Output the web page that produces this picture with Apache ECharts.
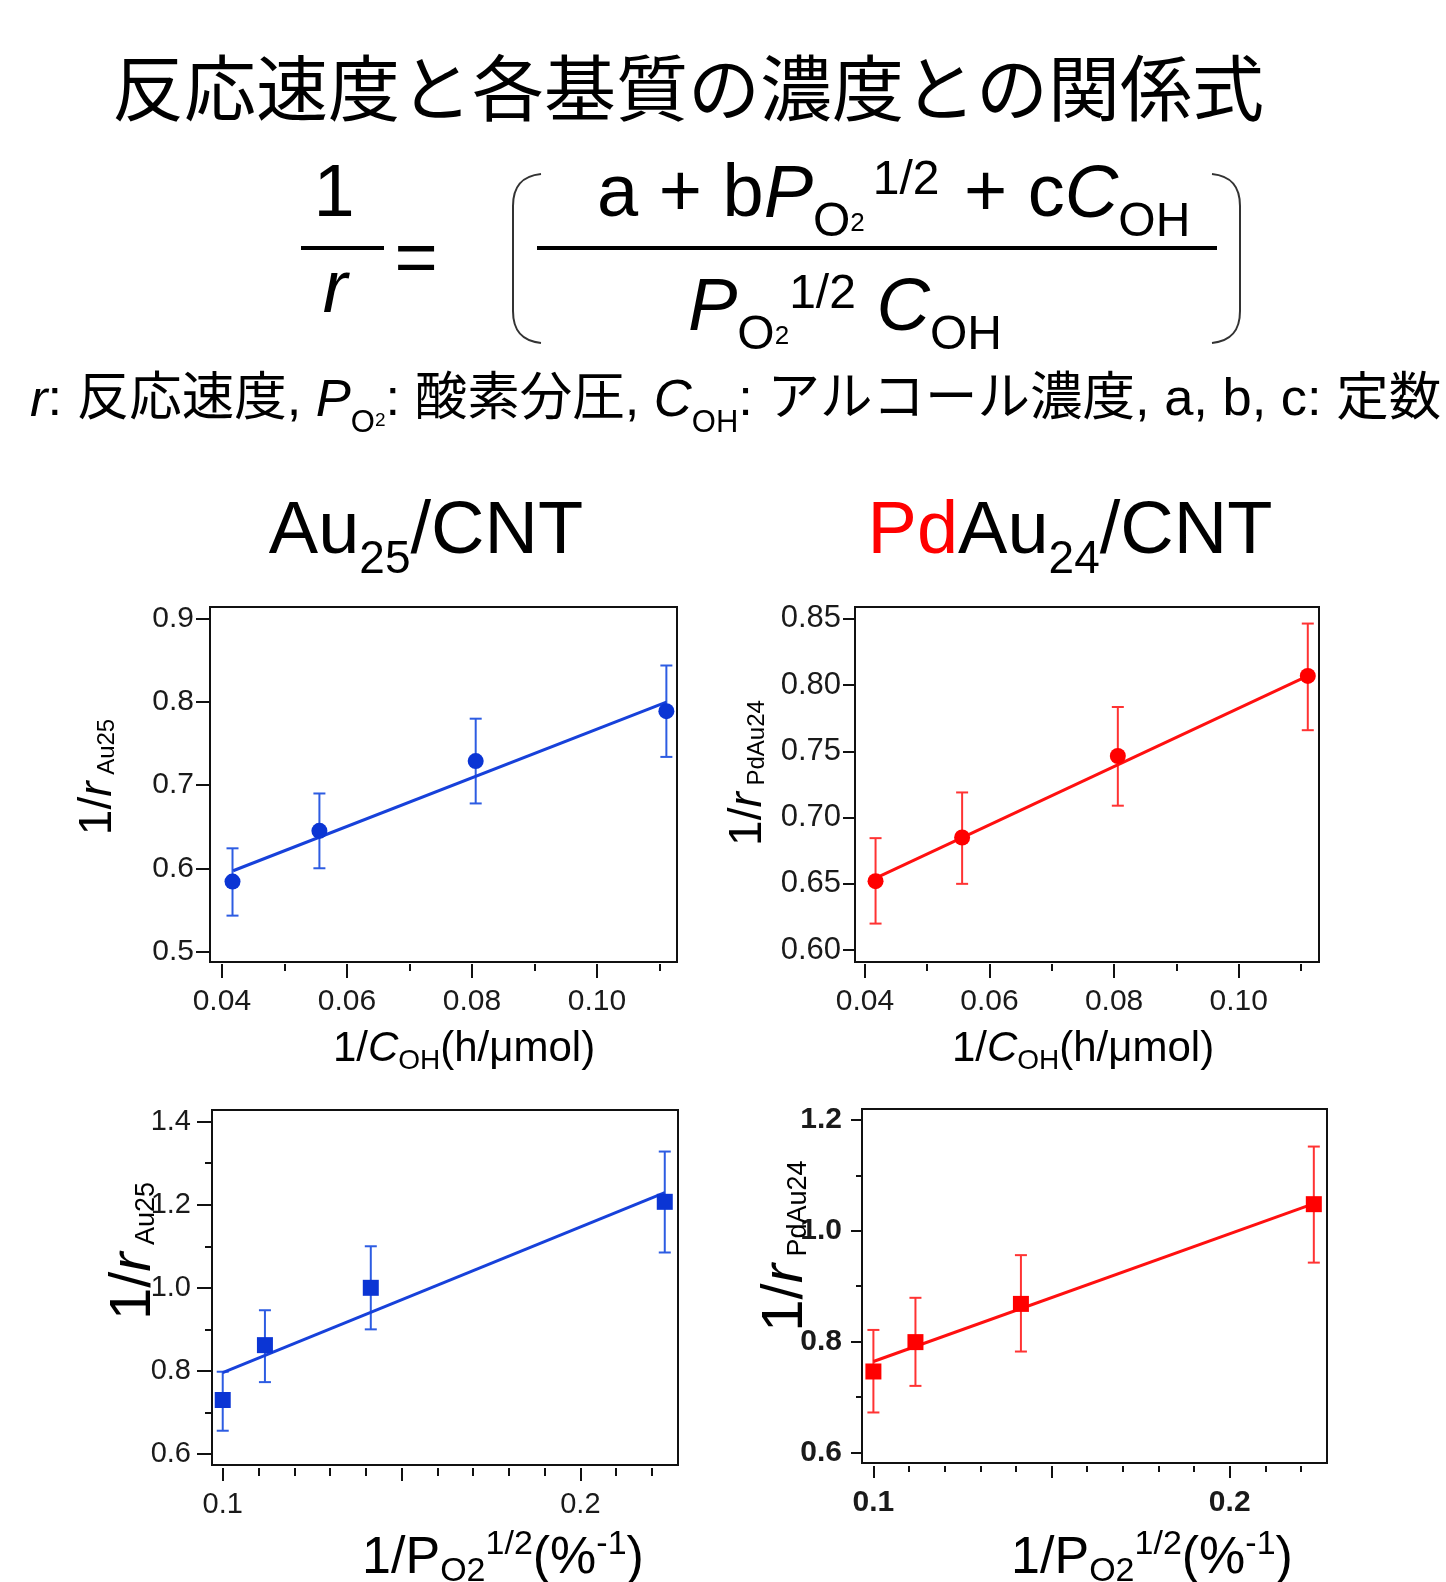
<!DOCTYPE html>
<html><head><meta charset="utf-8">
<script src="https://cdn.jsdelivr.net/npm/echarts@6/dist/echarts.min.js"></script>
<style>html,body{margin:0;padding:0;background:#fff}#c{width:1446px;height:1582px}</style>
</head><body><div id="c"></div>
<script>
// ---------- data ----------
const concX = [0.0417, 0.0556, 0.0806, 0.1111];           // 1/C_OH (h/μmol)
const au25ConcY = [0.584, 0.645, 0.729, 0.789];
const au25ConcErrLow = [0.543, 0.600, 0.678, 0.734];
const au25ConcErrHigh = [0.624, 0.690, 0.780, 0.844];
const au25ConcFit = [[0.0418, 0.597], [0.1111, 0.800]];

const pdConcY = [0.652, 0.685, 0.7465, 0.807];
const pdConcErrLow = [0.620, 0.650, 0.709, 0.766];
const pdConcErrHigh = [0.6845, 0.719, 0.7835, 0.8465];
const pdConcFit = [[0.0418, 0.6545], [0.1111, 0.807]];

const presX = [0.1000, 0.1118, 0.1414, 0.2236];           // 1/P_O2^1/2
const au25PresY = [0.730, 0.862, 1.000, 1.207];
const au25PresErrLow = [0.656, 0.773, 0.900, 1.085];
const au25PresErrHigh = [0.798, 0.946, 1.100, 1.328];
const au25PresFit = [[0.1000, 0.796], [0.2236, 1.229]];

const pdPresY = [0.746, 0.799, 0.868, 1.048];
const pdPresErrLow = [0.672, 0.720, 0.782, 0.9425];
const pdPresErrHigh = [0.821, 0.879, 0.956, 1.152];
const pdPresFit = [[0.1000, 0.764], [0.2236, 1.049]];

// ---------- ticks ----------
const concXTicks = [0.04, 0.06, 0.08, 0.10];
const concXTickLabels = ['0.04', '0.06', '0.08', '0.10'];
const concXMinorTicks = [0.05, 0.07, 0.09, 0.11];
const au25ConcYTicks = [0.5, 0.6, 0.7, 0.8, 0.9];
const au25ConcYTickLabels = ['0.5', '0.6', '0.7', '0.8', '0.9'];
const pdConcYTicks = [0.60, 0.65, 0.70, 0.75, 0.80, 0.85];
const pdConcYTickLabels = ['0.60', '0.65', '0.70', '0.75', '0.80', '0.85'];
const presXTicks = [0.10, 0.15, 0.20];
const presXTickLabels = ['0.1', '', '0.2'];
const presXMinorTicks = [0.11, 0.12, 0.13, 0.14, 0.16, 0.17, 0.18, 0.19, 0.21, 0.22];
const au25PresYTicks = [0.6, 0.8, 1.0, 1.2, 1.4];
const au25PresYTickLabels = ['0.6', '0.8', '1.0', '1.2', '1.4'];
const au25PresYMinorTicks = [0.7, 0.9, 1.1, 1.3];
const pdPresYTicks = [0.6, 0.8, 1.0, 1.2];
const pdPresYTickLabels = ['0.6', '0.8', '1.0', '1.2'];
const pdPresYMinorTicks = [0.7, 0.9, 1.1];

// ---------- styling ----------
const LAT = '"Liberation Sans", Arial, sans-serif';
const CJK = '"Noto Sans CJK JP", sans-serif';
const MIX = '"Liberation Sans", "Noto Sans CJK JP", sans-serif';
const BLUE = '#0b35d4', BLUE_LINE = '#1741da', BLUE_ERR = '#2d5ce2';
const RED = '#ff0000', RED_LINE = '#ff1010', RED_ERR = '#ff3333';
const INK = '#111';

const panels = [
  { grid: {left: 210, top: 607, width: 467, height: 355}, xr: [0.0381, 0.1128], yr: [0.4872, 0.9144],
    xT: concXTicks, xL: concXTickLabels, xM: concXMinorTicks,
    yT: au25ConcYTicks, yL: au25ConcYTickLabels, yM: null,
    xs: {major: 14, minor: 7, offset: 2, margin: 23, font: 30}, ys: {major: 14, minor: 7, margin: 16, font: 30}, bold: false,
    x: concX, y: au25ConcY, lo: au25ConcErrLow, hi: au25ConcErrHigh, fit: au25ConcFit,
    c: BLUE, cl: BLUE_LINE, ce: BLUE_ERR, symbol: 'circle', size: 16 },
  { grid: {left: 855, top: 607, width: 464, height: 355}, xr: [0.0384, 0.1129], yr: [0.591, 0.859],
    xT: concXTicks, xL: concXTickLabels, xM: concXMinorTicks,
    yT: pdConcYTicks, yL: pdConcYTickLabels, yM: null,
    xs: {major: 14, minor: 7, offset: 2, margin: 23, font: 30}, ys: {major: 12, minor: 6, margin: 14, font: 31}, bold: false,
    x: concX, y: pdConcY, lo: pdConcErrLow, hi: pdConcErrHigh, fit: pdConcFit,
    c: RED, cl: RED_LINE, ce: RED_ERR, symbol: 'circle', size: 16 },
  { grid: {left: 212, top: 1110, width: 466, height: 355}, xr: [0.0970, 0.2273], yr: [0.5735, 1.428],
    xT: presXTicks, xL: presXTickLabels, xM: presXMinorTicks,
    yT: au25PresYTicks, yL: au25PresYTickLabels, yM: au25PresYMinorTicks,
    xs: {major: 13, minor: 8, offset: 3, margin: 22, font: 29}, ys: {major: 15, minor: 7, margin: 21, font: 29}, bold: false,
    x: presX, y: au25PresY, lo: au25PresErrLow, hi: au25PresErrHigh, fit: au25PresFit,
    c: BLUE, cl: BLUE_LINE, ce: BLUE_ERR, symbol: 'rect', size: 16 },
  { grid: {left: 862, top: 1109, width: 465, height: 354}, xr: [0.0968, 0.2273], yr: [0.5808, 1.2198],
    xT: presXTicks, xL: presXTickLabels, xM: presXMinorTicks,
    yT: pdPresYTicks, yL: pdPresYTickLabels, yM: pdPresYMinorTicks,
    xs: {major: 12, minor: 6, offset: 3, margin: 22, font: 30}, ys: {major: 11, minor: 6, margin: 20, font: 30}, bold: true,
    x: presX, y: pdPresY, lo: pdPresErrLow, hi: pdPresErrHigh, fit: pdPresFit,
    c: RED, cl: RED_LINE, ce: RED_ERR, symbol: 'rect', size: 16 }
];

function labelFor(ticks, labels) {
  return function (v) {
    for (let i = 0; i < ticks.length; i++) if (Math.abs(ticks[i] - v) < 1e-9) return labels[i];
    return '';
  };
}
function makeAxis(gi, range, ticks, labels, len, margin, offset, bold, pos, font) {
  return {
    type: 'value', gridIndex: gi, min: range[0], max: range[1], position: pos, offset: offset || 0,
    axisLine: {show: false}, splitLine: {show: false},
    axisTick: {show: true, inside: false, length: len, customValues: ticks, lineStyle: {color: INK, width: 2}},
    axisLabel: labels ? {show: true, customValues: ticks, formatter: labelFor(ticks, labels), margin: margin,
      fontSize: font, fontFamily: LAT, color: '#1a1a1a', fontWeight: bold ? 'bold' : 'normal'} : {show: false},
    minorTick: {show: false}
  };
}

const grids = [], xAxes = [], yAxes = [], series = [];
panels.forEach(function (p, gi) {
  grids.push(Object.assign({show: true, borderColor: INK, borderWidth: 2, backgroundColor: 'rgba(0,0,0,0)'}, p.grid));
  const xi = xAxes.length;
  xAxes.push(makeAxis(gi, p.xr, p.xT, p.xL, p.xs.major, p.xs.margin, p.xs.offset, p.bold, 'bottom', p.xs.font));
  if (p.xM) xAxes.push(makeAxis(gi, p.xr, p.xM, null, p.xs.minor, 0, p.xs.offset, p.bold, 'bottom', p.xs.font));
  const yi = yAxes.length;
  yAxes.push(makeAxis(gi, p.yr, p.yT, p.yL, p.ys.major, p.ys.margin, 0, p.bold, 'left', p.ys.font));
  if (p.yM) yAxes.push(makeAxis(gi, p.yr, p.yM, null, p.ys.minor, 0, 0, p.bold, 'left', p.ys.font));

  const ec = p.ce;
  series.push({
    type: 'custom', xAxisIndex: xi, yAxisIndex: yi, clip: false, z: 2,
    encode: {x: 0, y: [1, 2]},
    data: p.x.map(function (v, k) { return [v, p.lo[k], p.hi[k]]; }),
    renderItem: function (params, api) {
      const x = api.value(0), lo = api.value(1), hi = api.value(2);
      const a = api.coord([x, hi]), b = api.coord([x, lo]);
      const w = 6, st = {stroke: ec, lineWidth: 2};
      return {type: 'group', children: [
        {type: 'line', shape: {x1: a[0], y1: a[1], x2: b[0], y2: b[1]}, style: st},
        {type: 'line', shape: {x1: a[0] - w, y1: a[1], x2: a[0] + w, y2: a[1]}, style: st},
        {type: 'line', shape: {x1: b[0] - w, y1: b[1], x2: b[0] + w, y2: b[1]}, style: st}
      ]};
    }
  });
  series.push({
    type: 'line', xAxisIndex: xi, yAxisIndex: yi, data: p.fit, symbol: 'none', z: 3,
    lineStyle: {color: p.cl, width: 3}, silent: true
  });
  series.push({
    type: 'scatter', xAxisIndex: xi, yAxisIndex: yi, z: 4,
    data: p.x.map(function (v, k) { return [v, p.y[k]]; }),
    symbol: p.symbol, symbolSize: p.size, itemStyle: {color: p.c, opacity: 1}
  });
});

// ---------- text helpers ----------
function T(size, extra) { return Object.assign({fontSize: size, fontFamily: LAT, fill: '#000'}, extra || {}); }
function txt(o) {
  const s = Object.assign({fill: '#000', align: o.align || 'center', verticalAlign: 'middle',
    textAlign: o.align || 'center', textVerticalAlign: 'middle'}, o.style);
  return {type: 'text', x: o.x, y: o.y, rotation: o.rotation || 0, style: s, z: 10};
}
function ln(x1, y1, x2, y2, w, c) {
  return {type: 'line', shape: {x1: x1, y1: y1, x2: x2, y2: y2}, style: {stroke: c || '#000', lineWidth: w}, z: 10};
}
function bz(x1, y1, cx1, cy1, cx2, cy2, x2, y2) {
  return {type: 'bezierCurve', shape: {x1: x1, y1: y1, cpx1: cx1, cpy1: cy1, cpx2: cx2, cpy2: cy2, x2: x2, y2: y2},
    style: {stroke: '#333', lineWidth: 2, fill: null}, z: 10};
}

const graphics = [];
// title
graphics.push(txt({x: 688, y: 88, style: {text: '反応速度と各基質の濃度との関係式', fontSize: 72, fontFamily: CJK}}));
// formula: 1 / r
graphics.push(txt({x: 334, y: 196, style: {text: '1', fontSize: 74, fontFamily: LAT}}));
graphics.push(txt({x: 335, y: 291, style: {text: 'r', fontSize: 74, fontFamily: LAT, fontStyle: 'italic'}}));
graphics.push(ln(301, 248, 384, 248, 4));
graphics.push(txt({x: 416, y: 262, style: {text: '=', fontSize: 74, fontFamily: LAT}}));
// parentheses
graphics.push(bz(541, 174, 522, 176, 513, 186, 513, 206));
graphics.push(ln(513, 206, 513, 311, 2, '#333'));
graphics.push(bz(513, 311, 513, 331, 522, 341, 541, 343));
graphics.push(bz(1212, 174, 1231, 176, 1240, 186, 1240, 206));
graphics.push(ln(1240, 206, 1240, 311, 2, '#333'));
graphics.push(bz(1240, 311, 1240, 331, 1231, 341, 1212, 343));
graphics.push(ln(537, 248, 1217, 248, 4));
const fRich = {
  n: T(74), i: T(74, {fontStyle: 'italic'}),
  s: T(48, {padding: [54, 0, 0, 0]}), ss: T(26, {padding: [55, 0, 0, 0]}),
  sup: T(48, {padding: [0, 4, 30, 8]})
};
graphics.push(txt({x: 597, y: 196, align: 'left', style: {
  text: '{n|a + b}{i|P}{s|O}{ss|2}{sup|1/2}{n| + c}{i|C}{s|OH}', rich: fRich, fontSize: 74, fontFamily: LAT}}));
const dRich = Object.assign({}, fRich, {sup: T(48, {padding: [0, 0, 28, 0]})});
graphics.push(txt({x: 688, y: 309, align: 'left', style: {
  text: '{i|P}{s|O}{ss|2}{sup|1/2}{n| }{i|C}{s|OH}', rich: dRich, fontSize: 74, fontFamily: LAT}}));
// caption
graphics.push(txt({x: 30, y: 401, align: 'left', style: {
  text: '{i|r}{n|: 反応速度, }{i|P}{s|O}{ss|2}{n|: 酸素分圧, }{i|C}{s|OH}{n|: アルコール濃度, a, b, c: 定数}',
  fontSize: 52.5, fontFamily: MIX,
  rich: {
    n: {fontSize: 52.5, fontFamily: MIX, fill: '#000'},
    i: {fontSize: 52.5, fontFamily: MIX, fill: '#000', fontStyle: 'italic'},
    s: {fontSize: 31, fontFamily: LAT, fill: '#000', padding: [45, 0, 0, 0]},
    ss: {fontSize: 19, fontFamily: LAT, fill: '#000', padding: [40, 0, 0, 0]}
  }}}));
// panel titles
const ptRich = {n: T(74), r: T(74, {fill: '#ff0000'}), s: T(46, {padding: [55, 0, 0, 0]})};
graphics.push(txt({x: 426, y: 533, style: {text: '{n|Au}{s|25}{n|/CNT}', rich: ptRich, fontSize: 74, fontFamily: LAT}}));
graphics.push(txt({x: 1070, y: 533, style: {text: '{r|Pd}{n|Au}{s|24}{n|/CNT}', rich: ptRich, fontSize: 74, fontFamily: LAT}}));
// x axis names
const xnRich1 = {n: T(42), i: T(42, {fontStyle: 'italic'}), s: T(28, {padding: [24, 0, 0, 0]})};
graphics.push(txt({x: 464, y: 1049, style: {text: '{n|1/}{i|C}{s|OH}{n|(h/μmol)}', rich: xnRich1, fontSize: 42, fontFamily: LAT}}));
graphics.push(txt({x: 1083, y: 1049, style: {text: '{n|1/}{i|C}{s|OH}{n|(h/μmol)}', rich: xnRich1, fontSize: 42, fontFamily: LAT}}));
const xnRich2 = {n: T(52), s: T(34, {padding: [26, 0, 0, 0]}), sup: T(34, {padding: [0, 0, 28, 0]})};
graphics.push(txt({x: 503, y: 1559, style: {text: '{n|1/P}{s|O2}{sup|1/2}{n|(%}{sup|-1}{n|)}', rich: xnRich2, fontSize: 52, fontFamily: LAT}}));
graphics.push(txt({x: 1152, y: 1559, style: {text: '{n|1/P}{s|O2}{sup|1/2}{n|(%}{sup|-1}{n|)}', rich: xnRich2, fontSize: 52, fontFamily: LAT}}));
// y axis names (rotated)
function yName(x, y, main, sub, label) {
  const pad = Math.round(2 * (0.3465 * (main - sub) + 2));
  return txt({x: x, y: y, rotation: Math.PI / 2, style: {
    text: '{n|1/}{i|r}{s| ' + label + '}', fontSize: main, fontFamily: LAT,
    rich: {n: T(main), i: T(main, {fontStyle: 'italic'}), s: T(sub, {padding: [pad, 0, 0, 0]})}}});
}
graphics.push(yName(98, 777, 46, 24, 'Au25'));
graphics.push(yName(748, 773, 46, 24, 'PdAu24'));
graphics.push(yName(134, 1251, 58, 27, 'Au25'));
graphics.push(yName(786, 1246, 58, 27, 'PdAu24'));

const chart = echarts.init(document.getElementById('c'), null, {renderer: 'canvas'});
chart.setOption({
  backgroundColor: '#ffffff', animation: false,
  grid: grids, xAxis: xAxes, yAxis: yAxes, series: series, graphic: graphics
});
</script></body></html>
